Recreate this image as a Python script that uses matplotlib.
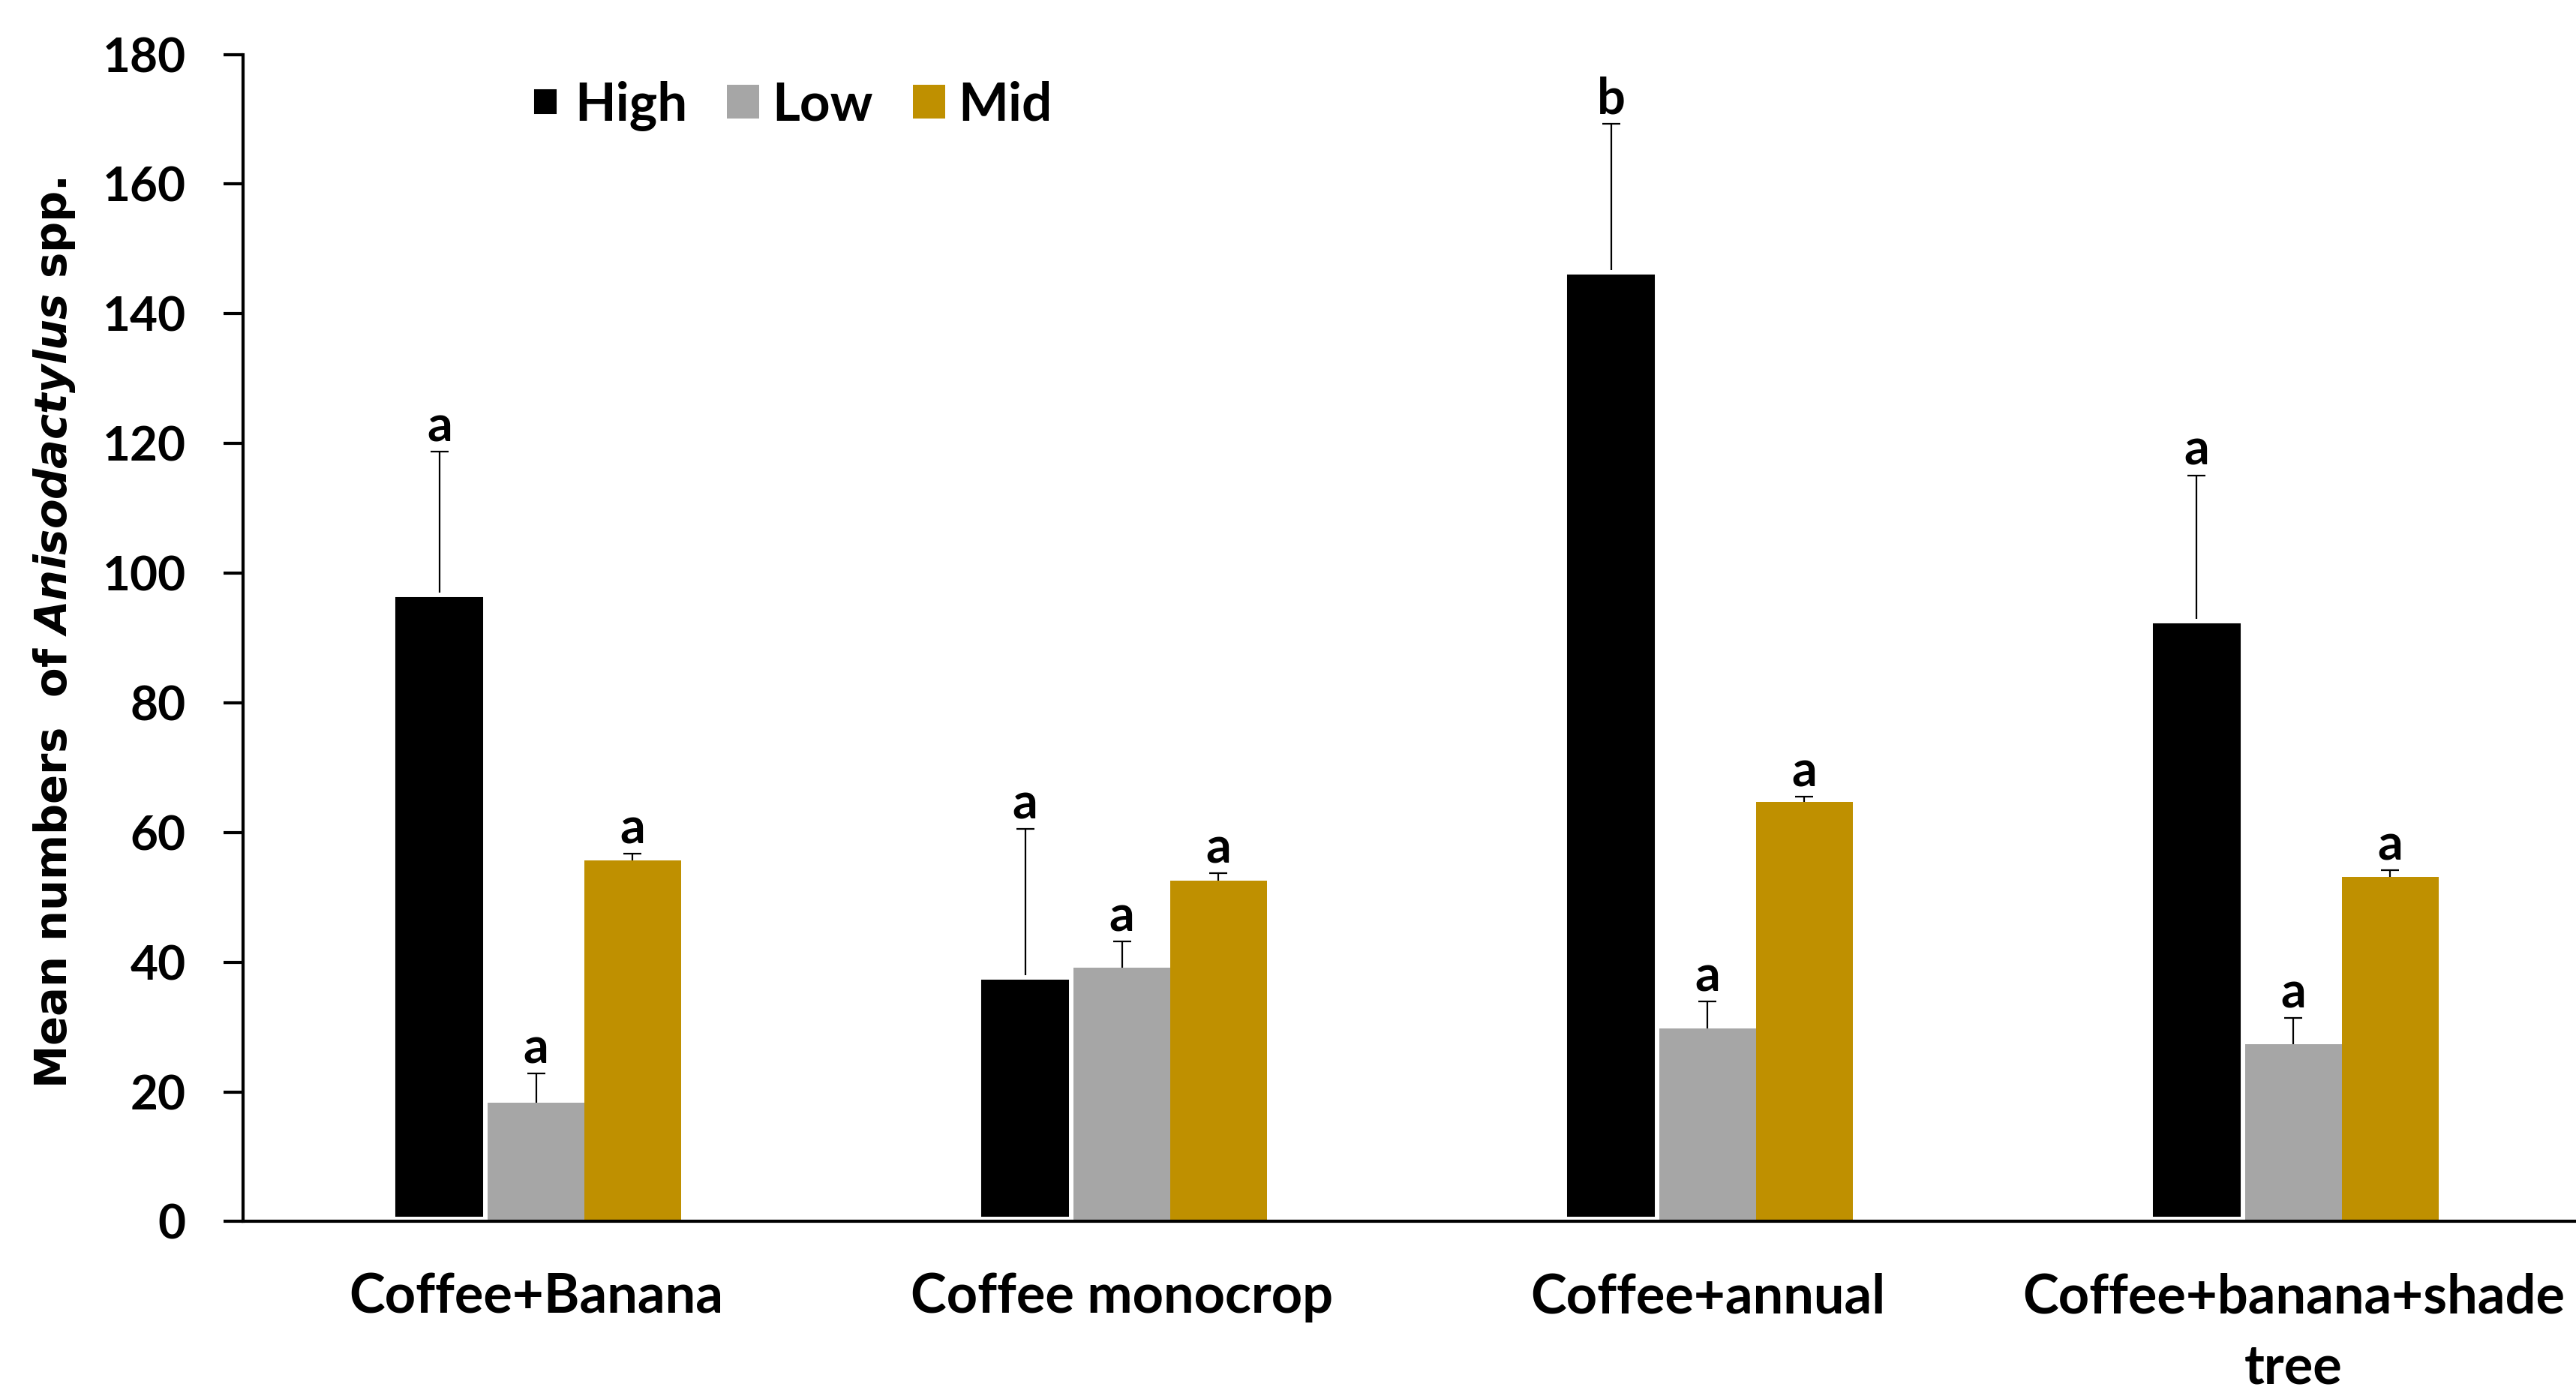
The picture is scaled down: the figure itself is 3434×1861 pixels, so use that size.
import matplotlib
matplotlib.use("Agg")
import matplotlib.pyplot as plt
import numpy as np

# Ground-beetle (Anisodactylus spp.) counts by cropping system and altitude level
systems = ["Coffee+Banana", "Coffee monocrop", "Coffee+annual", "Coffee+banana+shade\ntree"]
levels = ["High", "Low", "Mid"]

high_mean = [97.0, 38.0, 146.7, 93.0]
high_err = [21.7, 22.5, 22.6, 22.1]
low_mean = [18.3, 39.1, 29.8, 27.3]
low_err = [4.5, 4.1, 4.1, 4.1]
mid_mean = [55.7, 52.6, 64.7, 53.2]
mid_err = [1.0, 1.1, 0.8, 1.0]

high_letters = ["a", "a", "b", "a"]
low_letters = ["a", "a", "a", "a"]
mid_letters = ["a", "a", "a", "a"]

yticks = [0, 20, 40, 60, 80, 100, 120, 140, 160, 180]

colors = {"High": "#000000", "Low": "#A6A6A6", "Mid": "#BF9000"}

plt.rcParams["mathtext.fontset"] = "custom"
plt.rcParams["mathtext.rm"] = "DejaVu Sans:bold"
plt.rcParams["mathtext.it"] = "DejaVu Sans:italic:bold"

label_font = ["Lato", "DejaVu Sans"]

fig = plt.figure(figsize=(34.34, 18.61), dpi=100)
ax = fig.add_axes([0.0944, 0.125, 0.9096, 0.836])

x = np.arange(len(systems))
width = 0.165
series = [
    ("High", high_mean, high_err, high_letters, -width),
    ("Low", low_mean, low_err, low_letters, 0.0),
    ("Mid", mid_mean, mid_err, mid_letters, width),
]

for name, means, errs, letters, offset in series:
    pos = x + offset
    if name == "High":
        ax.bar(pos, means, width, color=colors[name], edgecolor="white",
               linewidth=8.6, label=name, zorder=1)
    else:
        ax.bar(pos, means, width, color=colors[name], linewidth=0,
               label=name, zorder=1.1)
    eb = ax.errorbar(pos, means, yerr=[np.zeros(len(errs)), errs], fmt="none",
                     ecolor="black", elinewidth=1.6, capsize=8.5, capthick=1.6,
                     zorder=3)
    # upper error only: hide the cap drawn at the bar top
    eb[1][0].set_visible(False)
    for p, m, e, lt in zip(pos, means, errs, letters):
        ax.annotate(lt, (p, m + e), xytext=(0, 10), textcoords="offset points",
                    ha="center", va="baseline", fontsize=48,
                    fontweight="bold", family=label_font)

ax.set_xlim(-0.5, 3.5)
ax.set_ylim(0, 180)
ax.set_yticks(yticks)
ax.set_yticklabels([str(v) for v in yticks])
ax.set_xticks(x)
ax.set_xticklabels(systems, linespacing=1.5)

for side in ("top", "right"):
    ax.spines[side].set_visible(False)
for side in ("left", "bottom"):
    ax.spines[side].set_linewidth(3)

ax.tick_params(axis="y", length=19, width=3, pad=36, direction="out")
ax.tick_params(axis="x", length=0, pad=49)
for lbl in ax.get_yticklabels():
    lbl.set_fontsize(46)
    lbl.set_fontweight("bold")
    lbl.set_family(label_font)
for lbl in ax.get_xticklabels():
    lbl.set_fontsize(52)
    lbl.set_fontweight("bold")
    lbl.set_family(label_font)

fig.text(0.021, 0.547, r"Mean numbers  of $\mathit{Anisodactylus}$ spp.",
         rotation=90, ha="center", va="center", fontsize=41.5,
         fontweight="bold", family="DejaVu Sans")

leg = ax.legend(loc="center left", bbox_to_anchor=(0.2055, 0.924),
                bbox_transform=fig.transFigure, ncol=3, frameon=False,
                handlelength=0.6, handleheight=0.6, handletextpad=0.25,
                columnspacing=0.75, borderpad=0, borderaxespad=0,
                prop={"family": label_font, "weight": "bold", "size": 51})

fig.savefig("out.png", dpi=100, facecolor="white")
